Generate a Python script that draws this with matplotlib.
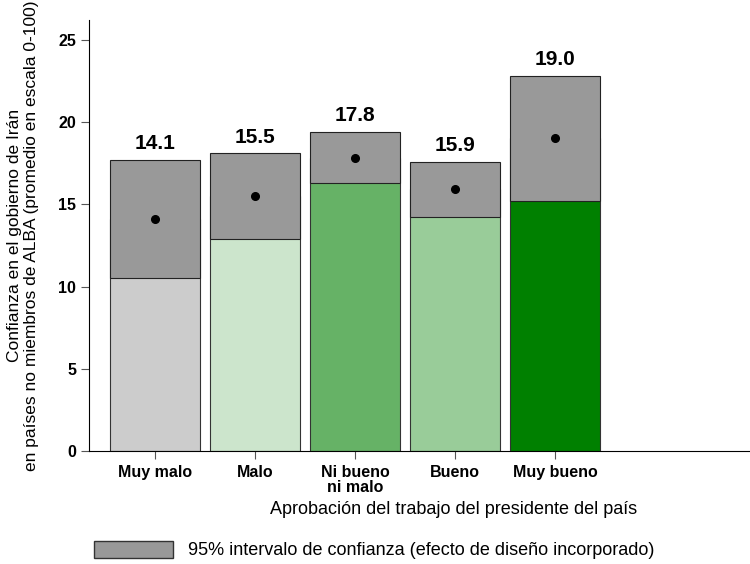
import matplotlib.pyplot as plt
from matplotlib.patches import Patch

plt.rcParams['font.family'] = ['Liberation Sans', 'DejaVu Sans']

# data
categories = ['Muy malo', 'Malo', 'Ni bueno\nni malo', 'Bueno', 'Muy bueno']
means = [14.1, 15.5, 17.8, 15.9, 19.0]
ci_low = [10.5, 12.9, 16.3, 14.2, 15.2]
ci_high = [17.7, 18.1, 19.4, 17.6, 22.8]
colors = ['#cccccc', '#cce5cc', '#66b266', '#99cc99', '#008000']
y_ticks = [0, 5, 10, 15, 20, 25]

fig = plt.figure(figsize=(7.5, 5.64), dpi=100)
ax = fig.add_axes([0.119, 0.2004, 0.881, 0.764])

pos = list(range(1, len(categories) + 1))
width = 0.9

# colored bars
ax.bar(pos, means, width=width, color=colors, edgecolor='#333333', linewidth=0.8, zorder=2)
# confidence interval boxes
ci_h = [h - l for l, h in zip(ci_low, ci_high)]
ax.bar(pos, ci_h, bottom=ci_low, width=width, color='#999999', edgecolor='#222222',
       linewidth=0.8, zorder=3)
# mean dots
ax.plot(pos, means, 'o', color='black', markersize=5.5, zorder=4)

for x, m, top in zip(pos, means, ci_high):
    ax.text(x, top + 0.4, f'{m:.1f}', ha='center', va='bottom',
            fontsize=15, fontweight='bold')

ax.set_xlim(0.34, 6.95)
ax.set_ylim(0, 26.2)
ax.set_xticks(pos)
ax.set_xticklabels(categories, fontsize=11.5, fontweight='bold', linespacing=1.0)
ax.set_yticks(y_ticks)
ax.set_yticklabels([str(t) for t in y_ticks], fontsize=11.5, fontweight='bold')
ax.tick_params(axis='both', length=6, width=0.8, color='#555555')
ax.tick_params(axis='x', pad=4)

for s in ['top', 'right']:
    ax.spines[s].set_visible(False)
for s in ['left', 'bottom']:
    ax.spines[s].set_linewidth(0.8)

ax.set_ylabel('Confianza en el gobierno de Irán\n'
              'en países no miembros de ALBA (promedio en escala 0-100)',
              fontsize=12.5, linespacing=1.12, labelpad=14)
fig.text(454 / 750, 1 - 510 / 564, 'Aprobación del trabajo del presidente del país',
         ha='center', va='center', fontsize=13)

leg = fig.legend(handles=[Patch(facecolor='#999999', edgecolor='#333333',
                                label='95% intervalo de confianza (efecto de diseño incorporado)')],
                 loc='center left', bbox_to_anchor=(94 / 750, 1 - 550 / 564),
                 frameon=False, fontsize=13, handlelength=4.4, handleheight=1.1,
                 handletextpad=0.8, borderpad=0, borderaxespad=0)

fig.savefig('out.png', dpi=100)
